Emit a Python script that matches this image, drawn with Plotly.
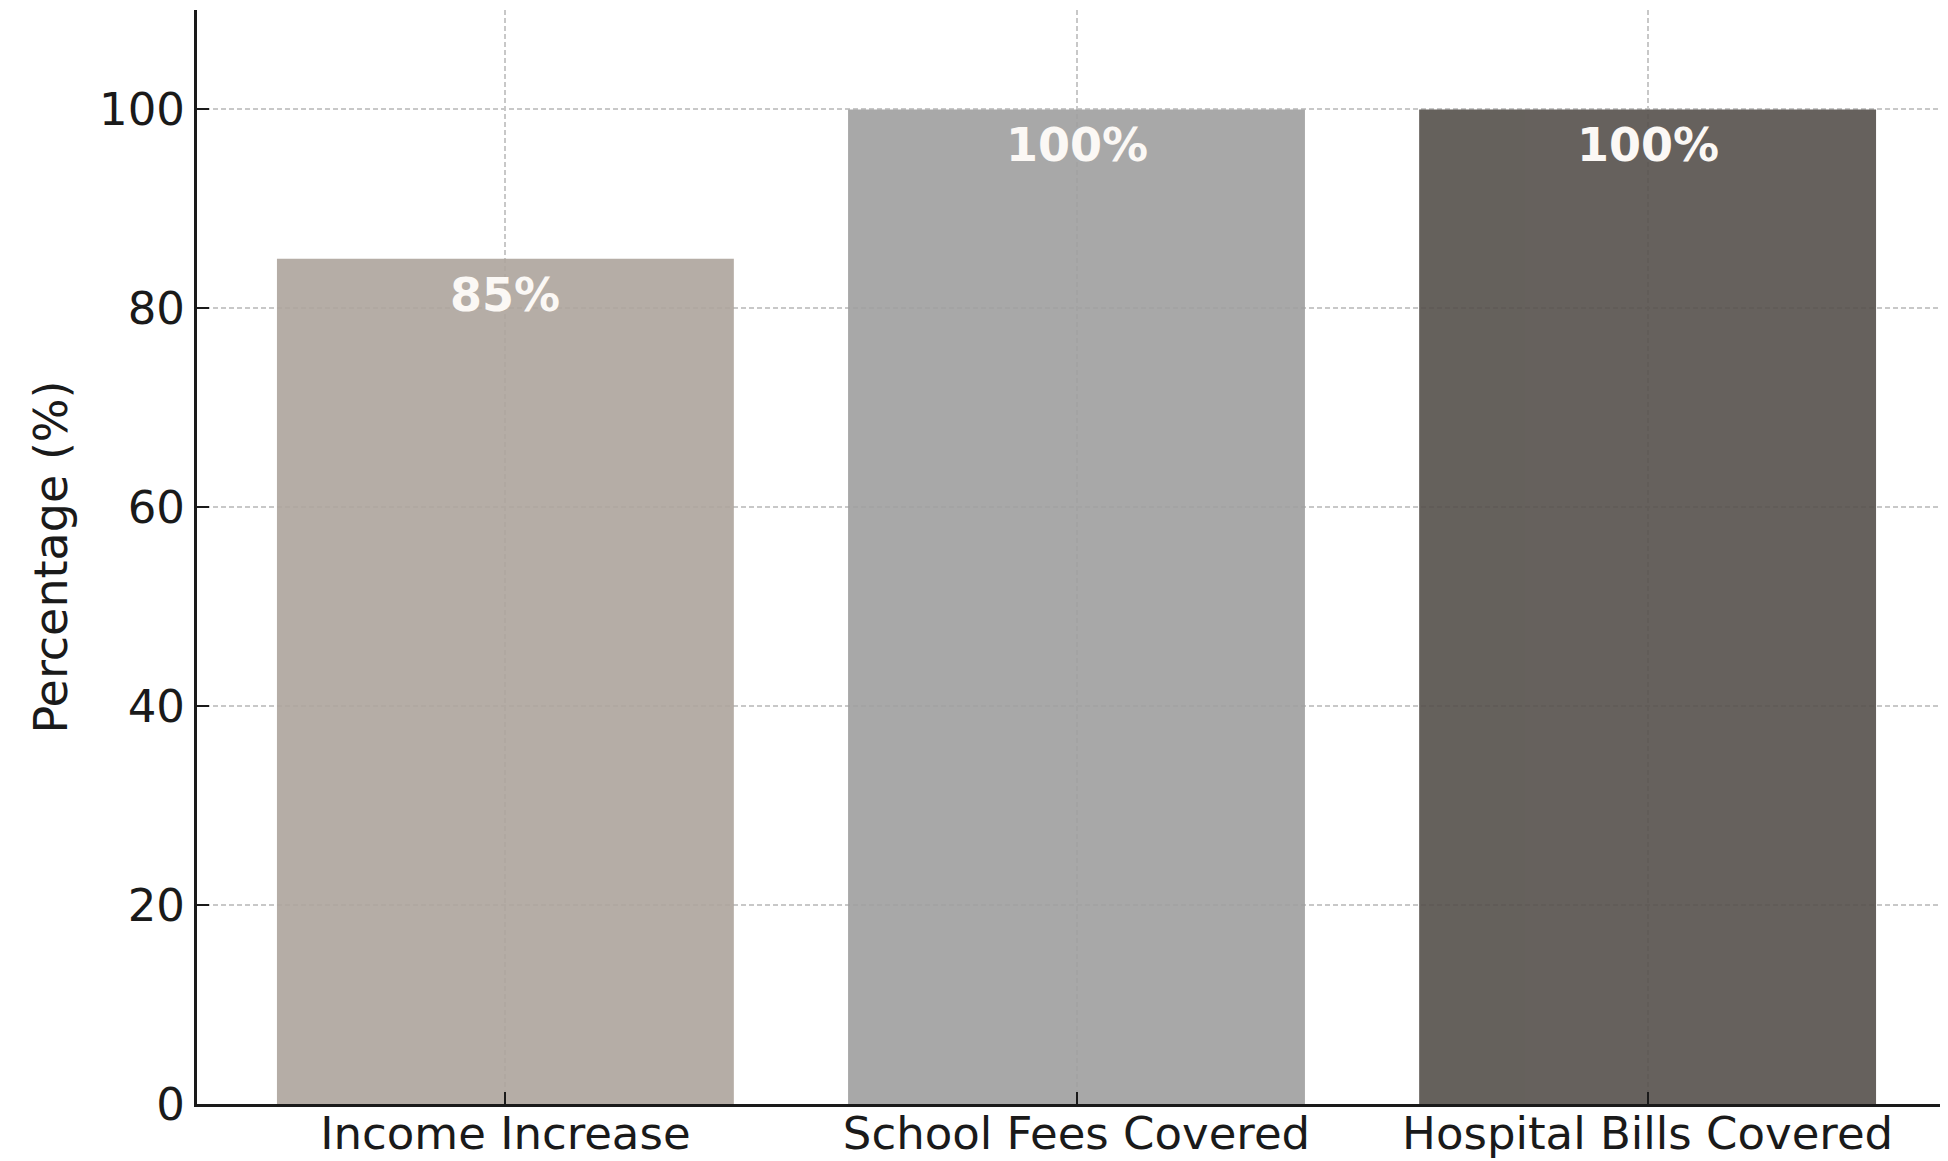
import plotly.graph_objects as go

categories = ["Income Increase", "School Fees Covered", "Hospital Bills Covered"]
values = [85, 100, 100]
labels = ["85%", "100%", "100%"]
colors = ["#ADA49C", "#9F9F9F", "#55504B"]
y_ticks = [0, 20, 40, 60, 80, 100]

FONT = "DejaVu Sans"
TXT = "#1a1a1a"

xs = list(range(len(categories)))

fig = go.Figure()
fig.add_trace(go.Bar(
    x=xs,
    y=values,
    width=0.8,
    marker=dict(color=colors, line=dict(width=0)),
    opacity=0.9,
    hoverinfo="skip",
))

for xi, v, lab in zip(xs, values, labels):
    fig.add_annotation(
        x=xi, y=v, xref="x", yref="y",
        text=lab, showarrow=False,
        yanchor="middle", xanchor="center",
        yshift=-36,
        font=dict(family=FONT, size=46, color="#FBF8F5", weight="bold"),
    )

fig.update_layout(
    width=1948,
    height=1161,
    margin=dict(l=189, r=0, t=2, b=65),
    paper_bgcolor="white",
    plot_bgcolor="white",
    showlegend=False,
    font=dict(family=FONT, size=45, color=TXT),
)

fig.update_xaxes(
    range=[-0.54, 2.54],
    tickmode="array",
    tickvals=xs,
    ticktext=categories,
    ticks="inside",
    ticklen=12,
    tickwidth=2,
    tickcolor=TXT,
    showline=True,
    linecolor=TXT,
    linewidth=3,
    showgrid=True,
    gridcolor="#C8C8C8",
    gridwidth=1.5,
    griddash="5px,3px",
    zeroline=False,
    tickfont=dict(family=FONT, size=45, color=TXT),
    ticklabelstandoff=-12,
    automargin=False,
)

fig.update_yaxes(
    range=[0, 110],
    tickmode="array",
    tickvals=y_ticks,
    ticks="inside",
    ticklen=12,
    tickwidth=2,
    tickcolor=TXT,
    showline=True,
    linecolor=TXT,
    linewidth=3,
    showgrid=True,
    gridcolor="#C8C8C8",
    gridwidth=1.5,
    griddash="5px,3px",
    zeroline=False,
    tickfont=dict(family=FONT, size=45, color=TXT),
    title=dict(text="Percentage (%)", font=dict(family=FONT, size=46, color=TXT), standoff=17),
    automargin=False,
)

fig.write_html("out.html")
